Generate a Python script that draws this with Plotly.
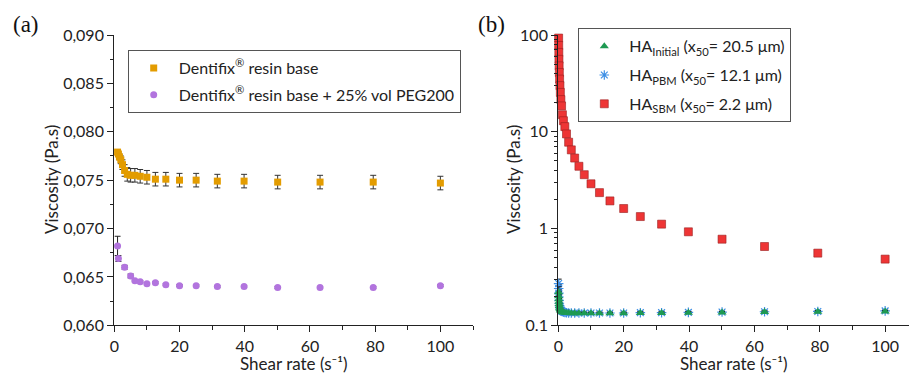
import plotly.graph_objects as go

W, H = 909, 373

# ---------------- panel (a): Dentifix resin base ----------------
rate_base = [1.0, 1.26, 1.58, 2.0, 2.51, 3.16, 3.98, 5.01, 6.31, 7.94, 10, 12.6,
             15.8, 20, 25.1, 31.6, 39.8, 50.1, 63.1, 79.4, 100]
visc_base = [0.0779, 0.0777, 0.0774, 0.0771, 0.0766, 0.0760, 0.0756, 0.0755, 0.0755,
             0.0754, 0.0753, 0.0751, 0.0751, 0.0750, 0.0750, 0.0749, 0.0749, 0.0748,
             0.0748, 0.0748, 0.0747]
err_base = [0.0002, 0.0002, 0.0003, 0.0004, 0.0005, 0.0006, 0.0007, 0.0007, 0.0007,
            0.0007, 0.0007, 0.0007, 0.0007, 0.0007, 0.0007, 0.0007, 0.0007, 0.0007,
            0.0007, 0.0007, 0.0007]

rate_peg = [1.0, 1.26, 3.16, 5.01, 6.31, 7.94, 10, 12.6, 15.8, 20, 25.1, 31.6,
            39.8, 50.1, 63.1, 79.4, 100]
visc_peg = [0.0682, 0.0669, 0.0660, 0.0651, 0.0646, 0.0645, 0.0643, 0.0644, 0.0642,
            0.0641, 0.0641, 0.0640, 0.0640, 0.0639, 0.0639, 0.0639, 0.0641]
err_peg = [0.0010, 0.0003, 0.0002, 0.0002, 0.0001, 0.0001, 0.0001, 0.0001, 0.0001,
           0.0001, 0.0001, 0.0001, 0.0001, 0.0001, 0.0001, 0.0001, 0.0001]

a_xticks = [0, 20, 40, 60, 80, 100]
a_xminor = [10, 30, 50, 70, 90, 110]
a_yticks = [0.060, 0.065, 0.070, 0.075, 0.080, 0.085, 0.090]
a_ylabels = ["0,060", "0,065", "0,070", "0,075", "0,080", "0,085", "0,090"]
a_yminor = [0.0625, 0.0675, 0.0725, 0.0775, 0.0825, 0.0875]

# ---------------- panel (b): HA suspensions ----------------
rate_ha = [0.1, 0.126, 0.158, 0.2, 0.251, 0.316, 0.398, 0.501, 0.631, 0.794, 1.0,
           1.26, 1.58, 2.0, 2.51, 3.16, 3.98, 5.01, 6.31, 7.94, 10, 12.6, 15.8, 20,
           25.1, 31.6, 39.8, 50.1, 63.1, 79.4, 100]
visc_initial = [0.22, 0.2, 0.186, 0.175, 0.166, 0.158, 0.152, 0.147, 0.143, 0.141,
                0.139, 0.137, 0.136, 0.135, 0.134, 0.134, 0.133, 0.133, 0.133, 0.133,
                0.133, 0.133, 0.133, 0.133, 0.134, 0.134, 0.135, 0.136, 0.137, 0.138,
                0.139]
err_initial = [0.03, 0.025, 0.02, 0.015, 0.012, 0.01, 0.008, 0.006, 0.005, 0.004,
               0.004, 0.003, 0.003, 0.003, 0.003, 0.003, 0.003, 0.003, 0.003, 0.003,
               0.003, 0.003, 0.003, 0.003, 0.003, 0.003, 0.003, 0.003, 0.003, 0.003,
               0.003]
visc_pbm = [0.27, 0.24, 0.215, 0.196, 0.181, 0.169, 0.160, 0.153, 0.148, 0.144,
            0.141, 0.139, 0.137, 0.136, 0.135, 0.134, 0.134, 0.134, 0.134, 0.134,
            0.134, 0.134, 0.134, 0.134, 0.135, 0.135, 0.136, 0.137, 0.138, 0.139,
            0.141]
err_pbm = [0.03, 0.025, 0.02, 0.016, 0.013, 0.01, 0.008, 0.006, 0.005, 0.004,
           0.004, 0.003, 0.003, 0.003, 0.003, 0.003, 0.003, 0.003, 0.003, 0.003,
           0.003, 0.003, 0.003, 0.003, 0.003, 0.003, 0.003, 0.003, 0.003, 0.003,
           0.003]
visc_sbm = [93, 78, 66, 56, 48, 41, 35, 30, 25.5, 21.5, 18.5, 15, 13, 11.3, 9.5,
            7.8, 6.5, 5.35, 4.4, 3.6, 2.9, 2.35, 1.93, 1.61, 1.33, 1.11, 0.925,
            0.776, 0.652, 0.557, 0.483]
err_sbm = [3, 2.5, 2, 1.7, 1.4, 1.2, 1, 0.9, 0.7, 0.6, 0.5, 0.4, 0.35, 0.3, 0.25,
           0.2, 0.17, 0.14, 0.11, 0.09, 0.07, 0.06, 0.05, 0.04, 0.03, 0.03, 0.02,
           0.02, 0.015, 0.012, 0.01]

b_xticks = [0, 20, 40, 60, 80, 100]
b_xminor = [10, 30, 50, 70, 90]
b_yticks = [0.1, 1, 10, 100]
b_ylabels = ["0.1", "1", "10", "100"]
b_yminor = [0.2, 0.3, 0.4, 0.5, 0.6, 0.7, 0.8, 0.9, 2, 3, 4, 5, 6, 7, 8, 9,
            20, 30, 40, 50, 60, 70, 80, 90]

FONT = "Lato"
INK = "#222222"
ORANGE = "#E39C00"
PURPLE = "#B274DE"
RED = "#EE3535"
GREEN = "#1E9A52"
BLUE = "#3D8FE5"


def err(vals, color="#333333"):
    return dict(type="data", array=vals, visible=True, color=color,
                thickness=1, width=3)


fig = go.Figure()

fig.add_trace(go.Scatter(
    x=rate_base, y=visc_base, mode="markers", name="Dentifix<sup>®</sup> resin base",
    legendgroup="base",
    marker=dict(symbol="square", size=7, color=ORANGE),
    error_y=err(err_base), xaxis="x", yaxis="y", legend="legend", cliponaxis=False))
fig.add_trace(go.Scatter(
    x=rate_peg, y=visc_peg, mode="markers",
    name="Dentifix<sup>®</sup> resin base + 25% vol PEG200", legendgroup="peg",
    marker=dict(symbol="circle", size=7, color=PURPLE),
    error_y=err(err_peg, "#222222"), xaxis="x", yaxis="y", legend="legend",
    cliponaxis=False))

fig.add_trace(go.Scatter(
    x=rate_ha, y=visc_pbm, mode="markers",
    name="HA<sub>PBM</sub> (x<sub>50</sub>= 12.1 μm)", legendrank=2, legendgroup="pbm",
    marker=dict(symbol="asterisk-open", size=8, color=BLUE,
                line=dict(color=BLUE, width=1.2)),
    error_y=err(err_pbm, "#111111"), xaxis="x2", yaxis="y2", legend="legend2",
    cliponaxis=False))
fig.add_trace(go.Scatter(
    x=rate_ha, y=visc_initial, mode="markers",
    name="HA<sub>Initial</sub> (x<sub>50</sub>= 20.5 μm)", legendrank=1,
    legendgroup="initial",
    marker=dict(symbol="triangle-up", size=8, color=GREEN),
    error_y=err(err_initial, "#111111"), xaxis="x2", yaxis="y2", legend="legend2",
    cliponaxis=False))
fig.add_trace(go.Scatter(
    x=rate_ha, y=visc_sbm, mode="markers",
    name="HA<sub>SBM</sub> (x<sub>50</sub>= 2.2 μm)", legendrank=3, legendgroup="sbm",
    marker=dict(symbol="square", size=8, color=RED,
                line=dict(color="#9A2020", width=0.6)),
    error_y=err(err_sbm, "#111111"), xaxis="x2", yaxis="y2", legend="legend2",
    cliponaxis=False))

tickfont = dict(family=FONT, size=16, color=INK)
common = dict(showline=True, linecolor=INK, linewidth=1.3, showgrid=False,
              zeroline=False, ticks="outside", ticklen=6, tickwidth=1.2,
              tickcolor=INK, tickfont=tickfont, automargin=False)

y_dom = [(H - 325.3) / H, (H - 35) / H]

fig.update_layout(
    width=W, height=H, margin=dict(l=0, r=0, t=0, b=0),
    paper_bgcolor="white", plot_bgcolor="white",
    font=dict(family=FONT, size=16, color=INK),
    xaxis=dict(domain=[114.3 / W, 473 / W], range=[0, 110], anchor="y",
               tickmode="array", tickvals=a_xticks,
               minor=dict(tickvals=a_xminor, ticks="outside", ticklen=3.5,
                          tickcolor=INK), **common),
    yaxis=dict(domain=y_dom, range=[0.060, 0.090], anchor="x",
               tickmode="array", tickvals=a_yticks, ticktext=a_ylabels,
               minor=dict(tickvals=a_yminor, ticks="outside", ticklen=3.5,
                          tickcolor=INK), **common),
    xaxis2=dict(domain=[558.3 / W, 1.0], range=[0, 107.3], anchor="y2",
                tickmode="array", tickvals=b_xticks,
                minor=dict(tickvals=b_xminor, ticks="outside", ticklen=3.5,
                           tickcolor=INK), **common),
    yaxis2=dict(domain=y_dom, type="log", range=[-1, 2], anchor="x2",
                tickmode="array", tickvals=b_yticks, ticktext=b_ylabels,
                minor=dict(tickvals=b_yminor, ticks="outside", ticklen=3.5,
                           tickcolor=INK), **common),
    legend=dict(x=127.7 / W, y=1 - 50 / H, xanchor="left", yanchor="top",
                bordercolor="#555555", borderwidth=1, bgcolor="white",
                font=dict(family=FONT, size=16, color=INK), itemwidth=40,
                tracegroupgap=3),
    legend2=dict(x=578.3 / W, y=1 - 28.3 / H, xanchor="left", yanchor="top",
                 bordercolor="#555555", borderwidth=1, bgcolor="white",
                 font=dict(family=FONT, size=16, color=INK), itemwidth=40,
                 tracegroupgap=5),
)

title_font = dict(family=FONT, size=17, color=INK)
annotations = [
    dict(text="Viscosity (Pa.s)", x=51 / W, y=1 - 180 / H, textangle=-90),
    dict(text="Viscosity (Pa.s)", x=513 / W, y=1 - 180 / H, textangle=-90),
    dict(text="Shear rate (s⁻¹)", x=293 / W, y=1 - 363 / H),
    dict(text="Shear rate (s⁻¹)", x=733 / W, y=1 - 363 / H),
]
for a in annotations:
    fig.add_annotation(xref="paper", yref="paper", showarrow=False,
                       xanchor="center", yanchor="middle", font=title_font, **a)

panel_font = dict(family="Liberation Serif", size=23, color="#111111")
fig.add_annotation(text="(a)", x=26 / W, y=1 - 24 / H, xref="paper", yref="paper",
                   showarrow=False, xanchor="center", yanchor="middle", font=panel_font)
fig.add_annotation(text="(b)", x=491 / W, y=1 - 24 / H, xref="paper", yref="paper",
                   showarrow=False, xanchor="center", yanchor="middle", font=panel_font)

fig.write_html("out.html")
